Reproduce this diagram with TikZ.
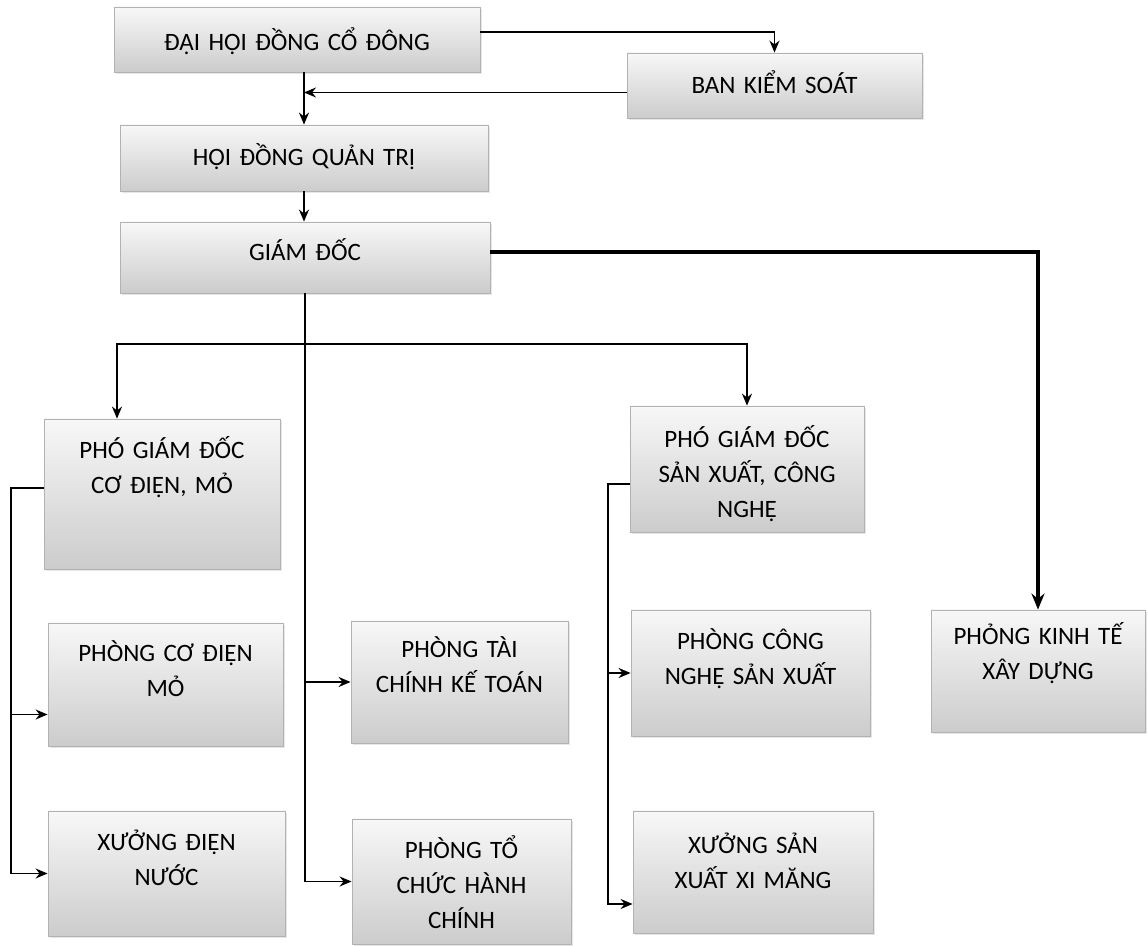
\documentclass[tikz,border=0pt]{standalone}
\usepackage{fontspec}
\setmainfont{Carlito}
\usepackage{tikz}
\usetikzlibrary{arrows.meta,positioning,calc,shadows}

\begin{document}
\begin{tikzpicture}[
    x=0.5pt, y=-0.5pt,
    box/.style={rectangle, draw=gray!60, top color=gray!6, bottom color=gray!40, inner sep=0pt, align=center, font=\fontsize{12.5}{17.5}\selectfont, text=black, drop shadow={shadow xshift=1pt, shadow yshift=-1pt, opacity=0.2}},
    dims/.style n args={3}{text width=#1, text height=#2, text depth=#3},
    arrow/.style={->, >={Stealth[length=6pt, width=5pt]}, line width=0.9pt},
    bigarrow/.style={->, >={Stealth[length=8pt, width=6.5pt]}, line width=1.6pt}
]
    \useasboundingbox (0,0) rectangle (1148,946);

    % Top level
    \node[box, dims={183pt}{22pt}{10.5pt}] (dhdcd) at (297,39.5) {ĐẠI HỘI ĐỒNG CỔ ĐÔNG};
    \node[box, dims={147.5pt}{20.5pt}{12pt}] (bks) at (774.5,85.5) {BAN KIỂM SOÁT};
    \node[box, dims={184pt}{20.5pt}{12.5pt}] (hdqt) at (304,158) {HỘI ĐỒNG QUẢN TRỊ};
    \node[box, dims={185pt}{19.5pt}{16pt}] (gd) at (305,257.5) {GIÁM ĐỐC};

    % Deputy directors
    \node[box, dims={118pt}{19.75pt}{55.25pt}] (pgdcd) at (162,494) {PHÓ GIÁM ĐỐC\\CƠ ĐIỆN, MỎ};
    \node[box, dims={117pt}{21pt}{42pt}] (pgdsx) at (747,469) {PHÓ GIÁM ĐỐC\\SẢN XUẤT, CÔNG\\NGHỆ};

    % Departments
    \node[box, dims={117.5pt}{19.5pt}{42pt}] (pcdm) at (165.5,684.5) {PHÒNG CƠ ĐIỆN\\MỎ};
    \node[box, dims={118.5pt}{20pt}{42.5pt}] (xdn) at (166.5,873.5) {XƯỞNG ĐIỆN\\NƯỚC};
    \node[box, dims={108.5pt}{18.5pt}{42.5pt}] (ptckt) at (459.5,682) {PHÒNG TÀI\\CHÍNH KẾ TOÁN};
    \node[box, dims={109.5pt}{20pt}{42.5pt}] (ptchc) at (461.5,881.5) {PHÒNG TỔ\\CHỨC HÀNH\\CHÍNH};
    \node[box, dims={119.5pt}{20pt}{43pt}] (pcnsx) at (750.5,673) {PHÒNG CÔNG\\NGHỆ SẢN XUẤT};
    \node[box, dims={120pt}{21.5pt}{39.5pt}] (xsx) at (753,872) {XƯỞNG SẢN\\XUẤT XI MĂNG};
    \node[box, dims={107pt}{17.5pt}{43.5pt}] (pktxd) at (1038,671) {PHỎNG KINH TẾ\\XÂY DỰNG};

    % Bus lines
    \coordinate (bus) at (0,344);
    \coordinate (lbus) at (11,0);
    \coordinate (rbus) at (608,0);

    % Arrows
    \draw[arrow] ([yshift=3.75pt]dhdcd.east) -| (bks.north);
    \draw[arrow] ([yshift=-3.5pt]bks.west) -- ([yshift=-3.5pt]bks.west -| hdqt.north);
    \draw[arrow] (dhdcd.south -| hdqt.north) -- (hdqt.north);
    \draw[arrow] (hdqt.south) -- (hdqt.south |- gd.north);
    \draw[bigarrow] ([yshift=2.75pt]gd.east) -| (pktxd.north);

    \draw[arrow] (gd.south) |- (ptchc.west);
    \draw[arrow] (gd.south |- ptckt.west) -- (ptckt.west);
    \draw[arrow] (gd.south |- bus) -| ([xshift=-22.5pt]pgdcd.north);
    \draw[arrow] (gd.south |- bus) -| (pgdsx.north);

    \draw[arrow] ([yshift=3pt]pgdcd.west) -| (lbus |- xdn.west) -- (xdn.west);
    \draw[arrow] ([yshift=-15pt]pcdm.west -| lbus) -- ([yshift=-15pt]pcdm.west);

    \draw[arrow] ([yshift=-7.5pt]pgdsx.west) -| ([yshift=-16pt]xsx.west -| rbus) -- ([yshift=-16pt]xsx.west);
    \draw[arrow] (pcnsx.west -| rbus) -- (pcnsx.west);
\end{tikzpicture}
\end{document}
